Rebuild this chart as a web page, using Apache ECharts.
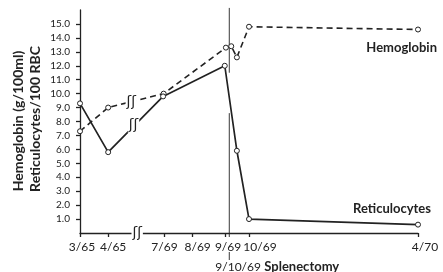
<!DOCTYPE html>
<html>
<head>
<meta charset="utf-8">
<style>
  html, body { margin: 0; padding: 0; background: #fff; }
  #chart { width: 443px; height: 272px; }
</style>
<script src="https://cdn.jsdelivr.net/npm/echarts@6.0.0/dist/echarts.min.js"></script>
</head>
<body>
<div id="chart"></div>
<script>
(function() {
  'use strict';

  // x axis is in months, with the 1965-1969 stretch squeezed into one break
  var tickLabels = ['3/65', '4/65', '7/69', '8/69', '9/69', '10/69', '4/70'];
  var tickPos = [0, 1, 3, 4, 5.15, 6, 12];
  var yTicks = [1, 2, 3, 4, 5, 6, 7, 8, 9, 10, 11, 12, 13, 14, 15];

  var hbX = [0, 1, 2.97, 5.18, 5.37, 5.57, 6, 12];
  var hbY = [7.3, 9.0, 10.0, 13.3, 13.4, 12.6, 14.8, 14.6];

  var retX = [0, 1, 2.95, 5.14, 5.57, 6, 12];
  var retY = [9.3, 5.8, 9.8, 12.0, 5.9, 1.0, 0.6];

  var splenectomyX = 5.3;

  var INK = '#222';
  var FONT = 'Lato';
  // the hand lettered dates sit a bit right of their ticks
  var labelShift = [2, 5, 0, 5, 3, 11, 7];

  function pairs(xs, ys) {
    var out = [];
    for (var i = 0; i < xs.length; i++) {
      out.push([xs[i], ys[i]]);
    }
    return out;
  }

  var rich = {};
  for (var i = 0; i < labelShift.length; i++) {
    rich['s' + i] = {
      fontFamily: FONT,
      fontSize: 12,
      color: INK,
      padding: [0, 0, 0, labelShift[i] * 2]
    };
  }

  var symbolStyle = { color: '#fff', borderColor: INK, borderWidth: 1 };

  var myChart = echarts.init(document.getElementById('chart'));

  var option = {
    animation: false,
    grid: { left: 80, right: 25, top: 10, bottom: 39 },
    xAxis: {
      type: 'value',
      min: 0,
      max: 12,
      axisLine: { lineStyle: { color: INK, width: 1.3 } },
      axisTick: { customValues: tickPos, length: 4, lineStyle: { color: INK, width: 1.3 } },
      axisLabel: {
        customValues: tickPos,
        margin: 8,
        fontFamily: FONT,
        fontSize: 12,
        color: INK,
        rich: rich,
        formatter: function(v) {
          var k = tickPos.indexOf(v);
          return k < 0 ? '' : '{s' + k + '|' + tickLabels[k] + '}';
        }
      },
      splitLine: { show: false }
    },
    yAxis: {
      type: 'value',
      min: 0,
      max: 16,
      interval: 1,
      axisLine: { show: true, lineStyle: { color: INK, width: 1.3 } },
      axisTick: { show: true, customValues: yTicks, length: 4, lineStyle: { color: INK, width: 1.3 } },
      axisLabel: {
        customValues: yTicks,
        margin: 10,
        fontFamily: FONT,
        fontSize: 10,
        color: INK,
        formatter: function(v) { return v.toFixed(1); }
      },
      splitLine: { show: false }
    },
    series: [
      {
        name: 'Hemoglobin',
        type: 'line',
        data: pairs(hbX, hbY),
        symbol: 'circle',
        symbolSize: 5,
        itemStyle: symbolStyle,
        lineStyle: { color: INK, width: 1.6, type: [6, 4] },
        z: 3
      },
      {
        name: 'Reticulocytes',
        type: 'line',
        data: pairs(retX, retY),
        symbol: 'circle',
        symbolSize: 5,
        itemStyle: symbolStyle,
        lineStyle: { color: INK, width: 1.7 },
        z: 3
      }
    ]
  };

  myChart.setOption(option);

  //标注
  function px(x, y) {
    return myChart.convertToPixel({ gridIndex: 0 }, [x, y]);
  }

  var graphics = [];

  function breakMark(x, y) {
    var p = px(x, y);
    graphics.push({
      type: 'text',
      x: p[0],
      y: p[1],
      z: 10,
      style: {
        text: 'ʃʃ',
        font: '14px "DejaVu Sans"',
        fill: INK,
        align: 'center',
        verticalAlign: 'middle',
        backgroundColor: '#fff',
        padding: [0, 1]
      }
    });
  }
  breakMark(1.82, 9.4);
  breakMark(1.9, 7.7);
  breakMark(2.03, 0);

  // splenectomy marker
  var top = px(splenectomyX, 16.15);
  var gapA = px(splenectomyX, 11.5);
  var gapB = px(splenectomyX, 8.6);
  var base = px(splenectomyX, 0);
  var thin = { stroke: INK, lineWidth: 0.9 };
  graphics.push({ type: 'line', shape: { x1: top[0], y1: top[1], x2: gapA[0], y2: gapA[1] }, style: thin, z: 1 });
  graphics.push({ type: 'line', shape: { x1: gapB[0], y1: gapB[1], x2: base[0], y2: base[1] + 4 }, style: thin, z: 1 });
  graphics.push({ type: 'line', shape: { x1: base[0], y1: base[1] + 19, x2: base[0], y2: base[1] + 27 }, style: thin, z: 1 });
  graphics.push({
    type: 'text', x: base[0] - 14, y: base[1] + 34,
    style: { text: '9/10/69', font: '12px ' + FONT, fill: INK, align: 'left', verticalAlign: 'middle' }
  });
  graphics.push({
    type: 'text', x: base[0] + 35, y: base[1] + 34,
    style: { text: 'Splenectomy', font: 'bold 13px ' + FONT, fill: INK, align: 'left', verticalAlign: 'middle' }
  });

  // series names
  var hbEnd = px(hbX[hbX.length - 1], 13.3);
  graphics.push({
    type: 'text', x: hbEnd[0] + 19, y: hbEnd[1],
    style: { text: 'Hemoglobin', font: 'bold 13px ' + FONT, fill: INK, align: 'right', verticalAlign: 'middle' }
  });
  var retEnd = px(retX[retX.length - 1], 1.76);
  graphics.push({
    type: 'text', x: retEnd[0] + 13, y: retEnd[1],
    style: { text: 'Reticulocytes', font: 'bold 13px ' + FONT, fill: INK, align: 'right', verticalAlign: 'middle' }
  });

  // y axis title, two lines
  graphics.push({
    type: 'text', x: 18, y: 121, rotation: Math.PI / 2,
    style: { text: 'Hemoglobin (g/100ml)', font: 'bold 14px ' + FONT, fill: INK, align: 'center', verticalAlign: 'middle' }
  });
  graphics.push({
    type: 'text', x: 35, y: 119, rotation: Math.PI / 2,
    style: { text: 'Reticulocytes/100 RBC', font: 'bold 14px ' + FONT, fill: INK, align: 'center', verticalAlign: 'middle' }
  });

  myChart.setOption({ graphic: graphics });
}());
</script>
</body>
</html>
